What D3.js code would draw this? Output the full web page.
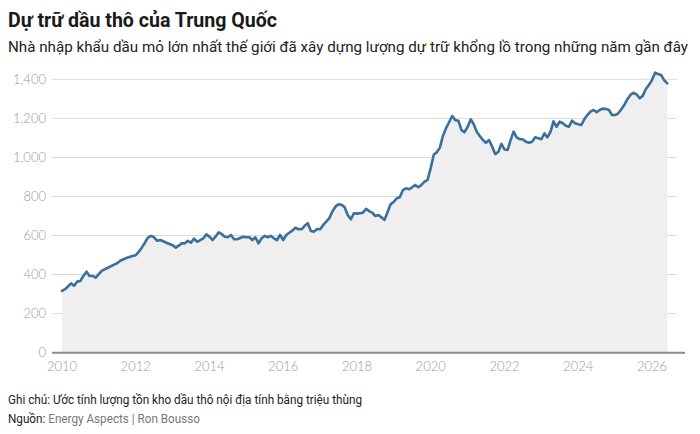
<!DOCTYPE html>
<html>
<head>
<meta charset="utf-8">
<script src="https://cdn.jsdelivr.net/npm/d3@7"></script>
<style>
  html, body { margin: 0; padding: 0; background: #ffffff; }
  svg { display: block; }
</style>
</head>
<body>
<svg id="chart" width="700" height="434"></svg>
<script>
// ---------- DATA ----------
const titleText = "Dự trữ dầu thô của Trung Quốc";
const subtitleText = "Nhà nhập khẩu dầu mỏ lớn nhất thế giới đã xây dựng lượng dự trữ khổng lồ trong những năm gần đây";
const noteText = "Ghi chú: Ước tính lượng tồn kho dầu thô nội địa tính bằng triệu thùng";
const sourceLabel = "Nguồn:";
const sourceText = " Energy Aspects | Ron Bousso";

const yTicks = [0, 200, 400, 600, 800, 1000, 1200, 1400];
const xTickYears = [2010, 2012, 2014, 2016, 2018, 2020, 2022, 2024, 2026];

const months = [
  "2010-01","2010-02","2010-04","2010-05","2010-06","2010-07","2010-08","2010-09","2010-10","2010-11","2010-12",
  "2011-01","2011-02","2011-04","2011-06","2011-07","2011-08","2011-10","2011-12",
  "2012-01","2012-02","2012-03","2012-04","2012-05","2012-06","2012-07","2012-08","2012-09","2012-11",
  "2013-01","2013-02","2013-03","2013-04","2013-05","2013-06","2013-07","2013-08","2013-09","2013-10","2013-11","2013-12",
  "2014-01","2014-02","2014-03","2014-04","2014-05","2014-06","2014-07","2014-08","2014-09","2014-10","2014-12",
  "2015-01","2015-02","2015-03","2015-04","2015-05","2015-06","2015-07","2015-08","2015-09","2015-10","2015-11","2015-12",
  "2016-01","2016-02","2016-03","2016-04","2016-05","2016-06","2016-07","2016-08","2016-09","2016-10","2016-11","2016-12",
  "2017-01","2017-02","2017-04","2017-05","2017-06","2017-07","2017-08","2017-09","2017-10","2017-11","2017-12",
  "2018-01","2018-03","2018-04","2018-05","2018-06","2018-07","2018-08","2018-09","2018-10","2018-11","2018-12",
  "2019-01","2019-02","2019-03","2019-04","2019-05","2019-06","2019-07","2019-08","2019-09","2019-10","2019-11","2019-12",
  "2020-01","2020-02","2020-03","2020-04","2020-05","2020-06","2020-07","2020-08","2020-09","2020-10","2020-11","2020-12",
  "2021-01","2021-02","2021-03","2021-04","2021-05","2021-06","2021-07","2021-08","2021-09","2021-10","2021-11","2021-12",
  "2022-01","2022-02","2022-03","2022-04","2022-05","2022-06","2022-07","2022-08","2022-09","2022-10","2022-11","2022-12",
  "2023-01","2023-02","2023-03","2023-04","2023-05","2023-06","2023-07","2023-08","2023-09","2023-10","2023-11","2023-12",
  "2024-01","2024-02","2024-03","2024-04","2024-05","2024-06","2024-07","2024-08","2024-09","2024-10","2024-11","2024-12",
  "2025-01","2025-02","2025-03","2025-04","2025-05","2025-06","2025-07","2025-08","2025-09","2025-10","2025-11","2025-12",
  "2026-01","2026-02","2026-03","2026-04","2026-05","2026-06"
];
const stocks = [
  316,325,355,343,364,367,393,415,393,393,384,
  403,420,435,451,458,471,485,495,
  499,517,538,563,589,598,591,573,577,563,
  550,538,548,560,560,573,563,584,568,577,586,606,
  594,577,594,616,608,594,591,603,581,581,594,
  591,591,577,591,560,586,598,591,598,586,577,603,
  577,603,614,625,640,632,632,650,663,623,620,633,
  632,654,688,722,748,760,758,745,705,683,714,
  712,717,737,725,717,700,705,693,680,722,761,
  773,791,796,833,842,837,847,859,847,859,876,885,
  945,1015,1026,1050,1110,1150,1180,1212,1191,1188,1140,1129,
  1157,1195,1171,1132,1110,1089,1075,1089,1055,1017,1029,1069,
  1041,1038,1086,1132,1103,1093,1093,1080,1075,1080,1103,1098,
  1093,1123,1103,1130,1185,1157,1183,1175,1162,1157,1188,1175,
  1170,1166,1195,1217,1234,1243,1232,1243,1250,1248,1243,1217,
  1217,1226,1245,1268,1297,1320,1331,1323,1303,1315,1350,1371,
  1396,1434,1427,1422,1396,1379
];

// ---------- CHART ----------
const svg = d3.select("#chart");
const parse = d3.timeParse("%Y-%m");
const data = months.map((m, i) => ({ date: parse(m), value: stocks[i] }));

const x = d3.scaleTime()
  .domain([new Date(2010, 0, 1), new Date(2026, 0, 1)])
  .range([62, 652]);
const y = d3.scaleLinear().domain([0, 1400]).range([352.7, 79.3]);

const gridLeft = 52, gridRight = 677, axisRight = 685;

// gridlines
svg.append("g").selectAll("line")
  .data(yTicks.filter(d => d > 0))
  .join("line")
  .attr("x1", gridLeft).attr("x2", gridRight)
  .attr("y1", d => y(d)).attr("y2", d => y(d))
  .attr("stroke", "#dadada").attr("stroke-width", 1);

// area
const area = d3.area()
  .x(d => x(d.date)).y0(y(0)).y1(d => y(d.value));
svg.append("path").datum(data)
  .attr("d", area)
  .attr("fill", "#efefef");

// baseline
svg.append("line")
  .attr("x1", gridLeft).attr("x2", axisRight)
  .attr("y1", y(0)).attr("y2", y(0))
  .attr("stroke", "#8a8a8a").attr("stroke-width", 2);

// line
const line = d3.line().x(d => x(d.date)).y(d => y(d.value));
svg.append("path").datum(data)
  .attr("d", line)
  .attr("fill", "none")
  .attr("stroke", "#3b6f9d")
  .attr("stroke-width", 2.6)
  .attr("stroke-linejoin", "round")
  .attr("stroke-linecap", "round");

// y-axis labels
const fmt = d3.format(",");
svg.append("g").selectAll("text")
  .data(yTicks)
  .join("text")
  .attr("x", 46).attr("y", d => y(d))
  .attr("dy", "0.35em")
  .attr("text-anchor", "end")
  .attr("font-family", "Lato, 'Open Sans', sans-serif")
  .attr("font-weight", 300)
  .attr("font-size", 13)
  .attr("fill", "#9a9a9a")
  .text(d => fmt(d));

// x-axis labels
svg.append("g").selectAll("text")
  .data(xTickYears)
  .join("text")
  .attr("x", d => x(new Date(d, 0, 1)))
  .attr("y", 371)
  .attr("text-anchor", "middle")
  .attr("font-family", "Lato, 'Open Sans', sans-serif")
  .attr("font-weight", 300)
  .attr("font-size", 13)
  .attr("fill", "#9a9a9a")
  .text(d => d);

const narrow = "'Liberation Sans Narrow', 'Roboto', sans-serif";

// title
svg.append("text")
  .attr("x", 8).attr("y", 27)
  .attr("font-family", narrow)
  .attr("font-weight", 700)
  .attr("font-size", 20)
  .attr("fill", "#1a1a1a")
  .attr("textLength", 269).attr("lengthAdjust", "spacingAndGlyphs")
  .text(titleText);

// subtitle
svg.append("text")
  .attr("x", 8).attr("y", 52)
  .attr("font-family", "Roboto, sans-serif")
  .attr("font-size", 14.5)
  .attr("fill", "#222")
  .attr("textLength", 680).attr("lengthAdjust", "spacingAndGlyphs")
  .text(subtitleText);

// note
svg.append("text")
  .attr("x", 8).attr("y", 404)
  .attr("font-family", narrow)
  .attr("font-size", 12.5)
  .attr("fill", "#222")
  .attr("textLength", 354).attr("lengthAdjust", "spacingAndGlyphs")
  .text(noteText);

// source
const src = svg.append("text")
  .attr("x", 8).attr("y", 423)
  .attr("font-family", narrow)
  .attr("font-size", 12.5)
  .attr("textLength", 192).attr("lengthAdjust", "spacingAndGlyphs");
src.append("tspan").attr("fill", "#222").text(sourceLabel);
src.append("tspan").attr("fill", "#777").text(sourceText);
</script>
</body>
</html>
